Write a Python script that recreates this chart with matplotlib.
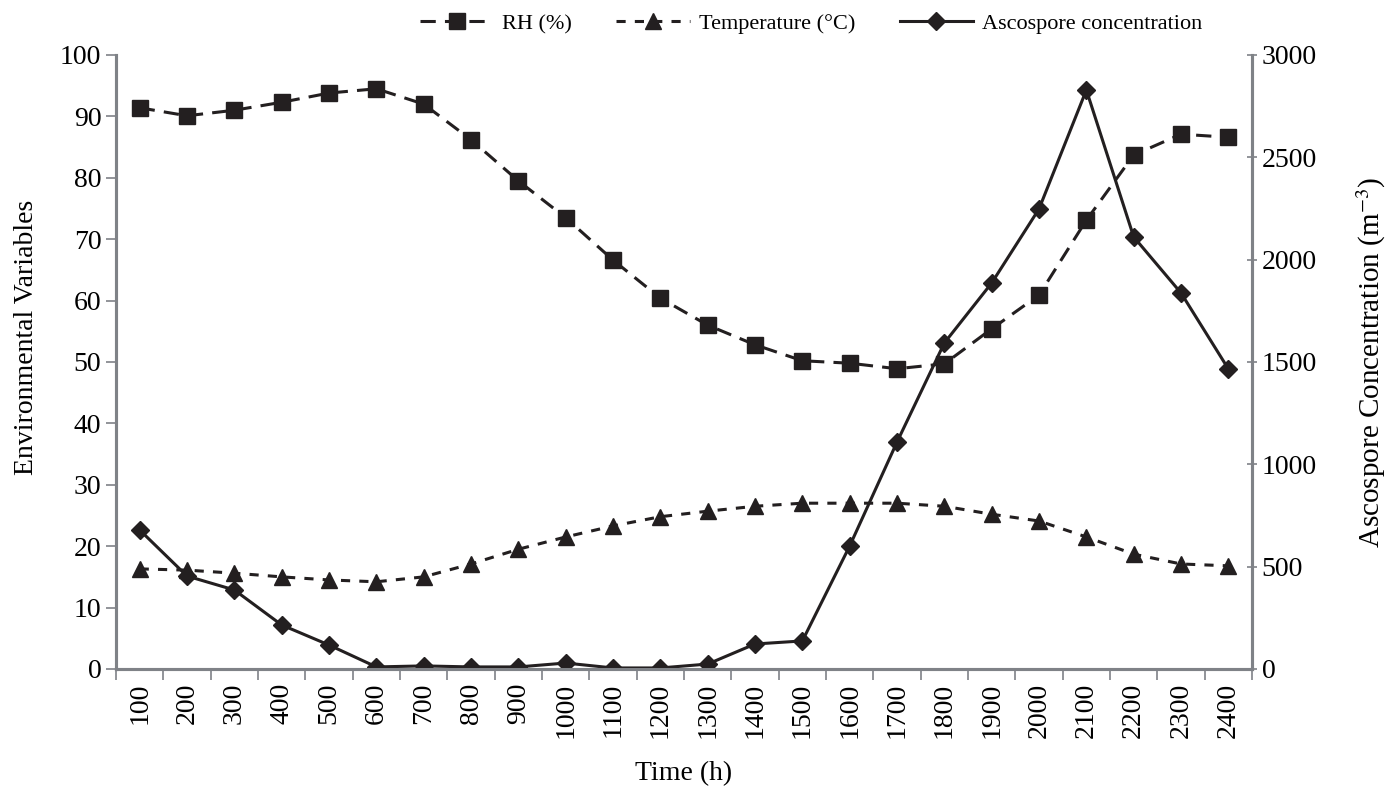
import numpy as np
import matplotlib
matplotlib.use("Agg")
import matplotlib.pyplot as pl

pl.rcParams['font.family'] = ['Liberation Serif', 'DejaVu Serif']
pl.rcParams['mathtext.fontset'] = 'stix'

# data
hours = ["100", "200", "300", "400", "500", "600", "700", "800", "900", "1000",
         "1100", "1200", "1300", "1400", "1500", "1600", "1700", "1800", "1900",
         "2000", "2100", "2200", "2300", "2400"]
rh = [91.4, 90.1, 91.0, 92.3, 93.8, 94.5, 92.0, 86.2, 79.5, 73.5,
      66.6, 60.4, 56.0, 52.8, 50.2, 49.8, 48.9, 49.7, 55.4, 60.9,
      73.1, 83.7, 87.1, 86.6]
temp = [16.3, 16.1, 15.6, 15.0, 14.5, 14.2, 15.0, 17.1, 19.5, 21.5,
        23.3, 24.8, 25.7, 26.5, 27.0, 27.0, 27.0, 26.5, 25.2, 24.1,
        21.5, 18.7, 17.1, 16.8]
asco = [679, 454, 386, 215, 117, 10, 15, 10, 10, 29,
        5, 5, 24, 122, 137, 601, 1109, 1593, 1886, 2248,
        2829, 2111, 1837, 1466]

idx = np.arange(len(hours))
spine_col = '#7f8287'
ink = '#231f20'

fig = pl.figure(figsize=(13.91, 7.90), dpi=100)
ax = fig.add_axes([0.0834, 0.1532, 0.8167, 0.7772])
ax2 = ax.twinx()

l1, = ax.plot(idx, rh, color=ink, ls=(0, (5, 3)), lw=2.2, marker='s', ms=11,
              label="RH (%)")
l2, = ax.plot(idx, temp, color=ink, ls=(0, (3, 3)), lw=2.2, marker='^', ms=11,
              label="Temperature (°C)")
l3, = ax2.plot(idx, asco, color=ink, ls='-', lw=2.2, marker='D', ms=9,
               label="Ascospore concentration")

ax.set_xlim(-0.5, len(hours) - 0.5)
ax.set_ylim(0, 100)
ax2.set_ylim(0, 3000)
ax.set_yticks(range(0, 101, 10))
ax2.set_yticks(range(0, 3001, 500))

ax.set_xticks(idx)
ax.set_xticklabels(hours, rotation=90, fontsize=20)
ax.set_xticks(np.arange(-0.5, len(hours)), minor=True)
ax.tick_params(axis='x', which='major', length=0, pad=10)
ax.tick_params(axis='x', which='minor', length=8, width=1.2, color=spine_col,
               direction='out')
ax.tick_params(axis='y', labelsize=20, length=7, width=1.2, color=spine_col)
ax2.tick_params(axis='y', labelsize=20, length=7, width=1.2, color=spine_col,
                direction='inout')

for a in (ax, ax2):
    a.spines['top'].set_visible(False)
    for s in ('left', 'right', 'bottom'):
        a.spines[s].set_color(spine_col)
        a.spines[s].set_linewidth(2.2)

ax.set_xlabel("Time (h)", fontsize=20)
ax.xaxis.set_label_coords(0.5, -0.15)
ax.set_ylabel("Environmental Variables", fontsize=20)
ax.yaxis.set_label_coords(-0.068, 0.54)
ax2.set_ylabel("Ascospore Concentration (m$^{-3}$)", fontsize=21)
ax2.yaxis.set_label_coords(1.09, 0.5)

fig.legend(handles=[l1, l2, l3], loc='upper center', bbox_to_anchor=(0.583, 1.008),
           ncol=3, frameon=False, fontsize=16, numpoints=1, handlelength=3.3,
           columnspacing=2.0, handletextpad=0.4)

fig.savefig("out.png", dpi=100)
